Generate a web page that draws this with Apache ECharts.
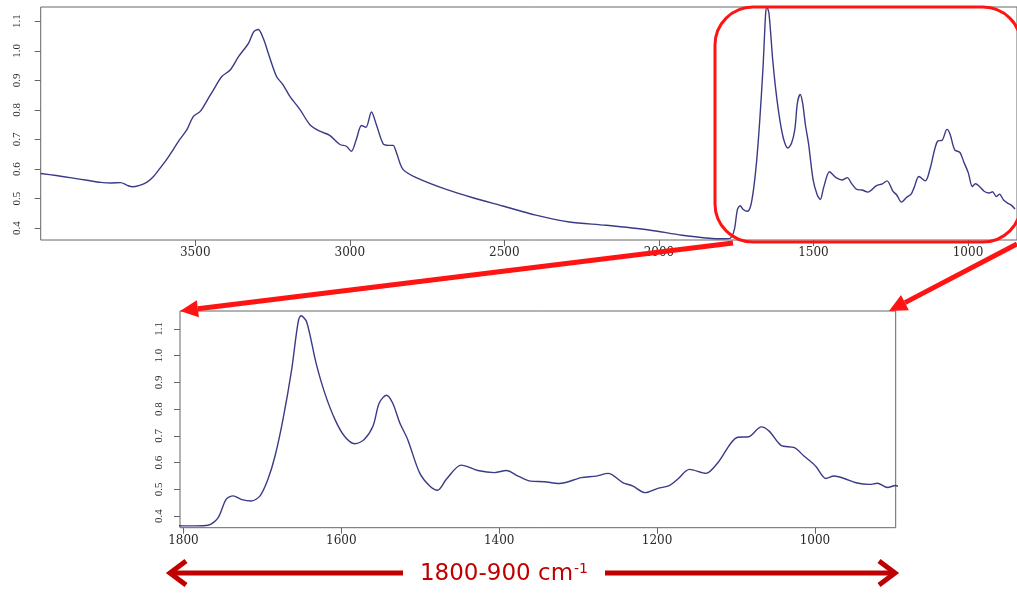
<!DOCTYPE html>
<html>
<head>
<meta charset="utf-8">
<script src="https://cdn.jsdelivr.net/npm/echarts@6/dist/echarts.min.js"></script>
<style>
html,body{margin:0;padding:0;background:#fff;}
#chart{width:1017px;height:616px;}
</style>
</head>
<body>
<div id="chart"></div>
<script>
// Wavenumbers (cm-1)
const wavenumber = [
 4000,3950,3900,3850,3806,3770,3742,3720,3704,3680,3656,3635,3613,3590,3571,3550,3527,3506,3484,3460,
 3441,3414,3387,3360,3328,3311,3296,3280,3260,3237,3216,3194,3161,3129,3097,3065,3032,3011,2995,2979,
 2962,2948,2930,2914,2892,2875,2860,2849,2828,2785,2688,2602,2505,2398,2290,2172,2032,1925,1828,
 1800,1785,1769,1756,1746,1737,1727,1714,1703,1693,1684,1674,1663,1655,1651,1644,1632,1621,1608,1596,
 1583,1571,1560,1552,1543,1535,1526,1516,1501,1488,1478,1467,1448,1427,1406,1391,1376,1360,1343,1324,
 1296,1277,1262,1243,1231,1215,1199,1184,1174,1159,1138,1123,1098,1084,1068,1058,1043,1026,1014,999,
 986,976,963,948,931,921,908,898,885,871,860,848
];
// Absorbance
const absorbance = [
 0.585,0.578,0.570,0.562,0.555,0.553,0.554,0.545,0.540,0.545,0.556,0.575,0.604,0.636,0.666,0.700,0.733,0.778,0.795,0.835,
 0.868,0.913,0.935,0.980,1.025,1.064,1.072,1.042,0.980,0.913,0.885,0.846,0.801,0.750,0.728,0.714,0.683,0.677,0.660,0.700,
 0.747,0.741,0.793,0.750,0.685,0.680,0.680,0.655,0.599,0.571,0.531,0.503,0.475,0.444,0.421,0.410,0.394,0.376,0.365,
 0.364,0.364,0.366,0.395,0.463,0.476,0.463,0.457,0.476,0.538,0.625,0.761,0.947,1.121,1.149,1.127,0.972,0.860,0.761,0.699,
 0.671,0.687,0.736,0.823,0.852,0.823,0.749,0.687,0.563,0.513,0.497,0.538,0.591,0.571,0.563,0.571,0.550,0.531,0.529,0.522,
 0.544,0.550,0.560,0.525,0.513,0.488,0.504,0.515,0.538,0.575,0.560,0.600,0.695,0.697,0.734,0.718,0.665,0.656,0.625,0.587,
 0.541,0.550,0.541,0.525,0.519,0.523,0.507,0.515,0.495,0.484,0.478,0.465
];
const topXTicks = [1000,1500,2000,2500,3000,3500];
const bottomXTicks = [1000,1200,1400,1600,1800];
const yTicks = [0.4,0.5,0.6,0.7,0.8,0.9,1.0,1.1];
const rangeLabel = '1800-900 cm';
const rangeSup = '-1';

const spectrum = wavenumber.map((w, i) => [w, absorbance[i]]);

const lineColor = '#3a3a86';
const frameColor = '#666';
const labelColor = '#2a2a2a';

function xAxis(gridIndex, min, max, ticks) {
  return {
    type: 'value', gridIndex, inverse: true, min, max,
    axisLine: {show: false},
    axisTick: {show: true, customValues: ticks, length: 6, lineStyle: {color: frameColor}},
    axisLabel: {customValues: ticks, margin: 7, fontFamily: 'DejaVu Serif', fontSize: 12, color: labelColor,
      formatter: v => String(v)},
    splitLine: {show: false}
  };
}
function yAxis(gridIndex, min, max, margin) {
  return {
    type: 'value', gridIndex, min, max,
    axisLine: {show: false},
    axisTick: {show: true, customValues: yTicks, length: 6, lineStyle: {color: frameColor}},
    axisLabel: {customValues: yTicks, rotate: 90, margin, fontFamily: 'Liberation Serif', fontSize: 11,
      color: labelColor, formatter: v => v.toFixed(1)},
    splitLine: {show: false}
  };
}

// annotation helpers (arrow shapes)
function arrowHead(x0, y0, x1, y1, len, half) {
  const dx = x1 - x0, dy = y1 - y0, L = Math.hypot(dx, dy);
  const ux = dx / L, uy = dy / L, px = -uy, py = ux;
  const bx = x1 - ux * len, by = y1 - uy * len;
  return [[x1, y1], [bx + px * half, by + py * half], [bx - px * half, by - py * half]];
}
const red = '#ff1414';
const dark = '#c00000';
function redArrow(x0, y0, x1, y1) {
  const head = arrowHead(x0, y0, x1, y1, 18, 8.5);
  const bx = (head[1][0] + head[2][0]) / 2, by = (head[1][1] + head[2][1]) / 2;
  return [
    {type: 'line', z: 100, shape: {x1: x0, y1: y0, x2: bx, y2: by}, style: {stroke: red, lineWidth: 5}},
    {type: 'polygon', z: 100, shape: {points: head}, style: {fill: red}}
  ];
}

const chart = echarts.init(document.getElementById('chart'), null, {renderer: 'canvas'});
chart.setOption({
  animation: false,
  backgroundColor: '#fff',
  grid: [
    {left: 40.7, top: 7, right: -2, height: 233, show: true, borderColor: frameColor, borderWidth: 1},
    {left: 180, top: 311, width: 715.7, height: 216.7, show: true, borderColor: frameColor, borderWidth: 1}
  ],
  xAxis: [
    xAxis(0, 841.5, 4000, topXTicks),
    xAxis(1, 897.7, 1804.4, bottomXTicks)
  ],
  yAxis: [
    yAxis(0, 0.360, 1.148, 18),
    yAxis(1, 0.357, 1.167, 15)
  ],
  series: [
    {type: 'line', xAxisIndex: 0, yAxisIndex: 0, data: spectrum, showSymbol: false, symbol: 'none',
     smooth: 0.3, lineStyle: {color: lineColor, width: 1.4}, clip: true},
    {type: 'line', xAxisIndex: 1, yAxisIndex: 1, data: spectrum, showSymbol: false, symbol: 'none',
     smooth: 0.3, lineStyle: {color: lineColor, width: 1.4}, clip: true}
  ],
  graphic: [
    {type: 'rect', z: 100, shape: {x: 715, y: 7, width: 306, height: 235, r: 38},
     style: {fill: 'none', stroke: red, lineWidth: 3}},
    ...redArrow(733, 243, 180, 311),
    ...redArrow(1017, 244, 889, 311),
    // bottom double arrow
    {type: 'line', z: 100, shape: {x1: 172, y1: 573, x2: 403, y2: 573}, style: {stroke: dark, lineWidth: 5}},
    {type: 'line', z: 100, shape: {x1: 605, y1: 573, x2: 891, y2: 573}, style: {stroke: dark, lineWidth: 5}},
    {type: 'polyline', z: 100, shape: {points: [[186, 561], [170, 573], [186, 585]]},
     style: {stroke: dark, lineWidth: 5, fill: null, lineJoin: 'miter'}},
    {type: 'polyline', z: 100, shape: {points: [[879, 561], [895, 573], [879, 585]]},
     style: {stroke: dark, lineWidth: 5, fill: null, lineJoin: 'miter'}},
    {type: 'text', z: 100, x: 504, y: 574,
     style: {text: rangeLabel + '{sup|' + rangeSup + '}', fill: dark, fontFamily: 'DejaVu Sans', fontSize: 23,
       align: 'center', verticalAlign: 'middle',
       rich: {sup: {fontSize: 14, fill: dark, fontFamily: 'DejaVu Sans', verticalAlign: 'top', padding: [0, 0, 9, 1]}}}}
  ]
});
</script>
</body>
</html>
